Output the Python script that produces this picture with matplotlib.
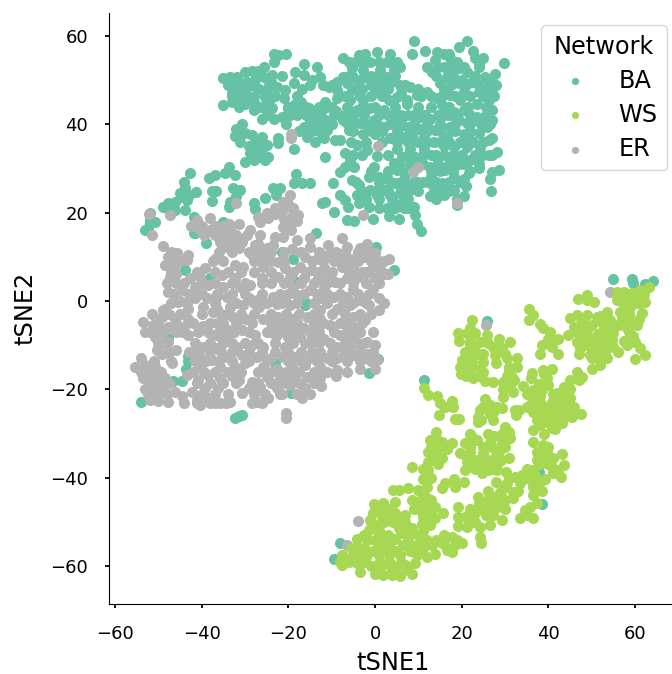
import matplotlib
matplotlib.use("Agg")
import matplotlib.pyplot as plt

# (tSNE1, tSNE2), one list per network
ba_points = [
    (-35.2,50.4),(-33.4,50.6),(-31.9,50.8),(-30,51.9),(-28.4,52.1),(-25.7,53),(-23.4,56),(-22.3,55.7),(-20.5,56),(-23.4,54.2),
    (-32.7,48.9),(-31.1,49.3),(-29.6,49.6),(-27.7,50),(-25.7,50.8),(-23.8,51.1),(-21.5,50.9),
    (-31.9,47.4),(-30,47.4),(-26.9,48.1),(-25,47.8),(-22.7,48.5),(-20.7,47.8),
    (-35,44.4),(-33,45.1),(-31.5,44),(-29.6,45.5),(-28,43.2),(-26.1,41.1),(-25.3,46.2),(-21.1,45.9),
    (-23.8,43.6),(-23.4,41.3),(-21.5,41.7),(-18.8,44.4),(-19.6,42.1),(-17.3,43.6),(-15.3,43.6),(-18.4,51.9),(-18.8,49.3),
    (-16.3,53.6),(-13.4,53),(-16.5,51.1),(-14.6,50),(-12.7,50.8),(-16.9,48.1),(-15,48.9),
    (-30.7,40),(-32,39),(-32.3,37.3),(-31.1,36),(-28.4,37.6),(-26.1,37.2),(-27.7,35.7),(-25,35.3),(-27.3,34.5),(-28.8,33.4),
    (-30,31.5),(-28,31.9),(-24.6,32.7),(-25.3,31.9),(-22.3,36.8),(-22.3,35.7),(-18.8,34.4),
    (-16.3,39.5),(-14.2,41.7),(-12.3,43.2),(-11.5,41),(-13.8,39.5),(-11.1,38.7),(-15.7,37.2),(-13.8,36),(-11.9,36.8),(-9.2,36.4),(-8,36.4),(-11.5,32.7),
    (-7.4,54.9),(-3.8,55.7),(-2.3,56),(0.4,56.4),(-4.6,54.2),(-1.1,54.2),(3.5,56),(2.7,54.2),(5.8,53),(-5.3,52.7),(-2.7,52.3),(1.2,52.3),(4.3,52.3),
    (-7.3,50.8),(-5,50.8),(-2.7,50.4),(2.7,50.8),(-8.8,49.6),(-6.5,49.3),(-10.7,48.5),(3.5,49.3),(0.8,48.5),(5.8,48.9),(-8.8,47.8),(-5.3,47.8),(0.4,47.4),(8.1,48.5),
    (-11.5,45.1),(-8.8,45.9),(-5.7,45.5),(-2.7,45.5),(3.1,45.5),(5,46.2),(7.3,45.5),(9.6,46.6),(12,47.4),(14.3,45.9),
    (8.9,58.9),(8.6,56),(11.6,56.7),(14.3,56.4),(15.8,56),(19.3,57.4),(21.2,58.9),(22.7,56.7),(25,54.9),(23.9,53.8),(29.8,53.8),(13.9,54.5),(17.3,54.9),
    (13.1,51.9),(15.8,53),(19.3,52.7),(21.2,51.9),(16.6,50.8),(27.7,51.5),(25.4,50.8),(15,49.3),(19.3,49.3),(22.3,49.6),(26.6,49.3),
    (17.3,46.6),(20.4,47.4),(23.9,47.4),(26.2,45.5),(23.5,44.7),(19.7,45.5),(27,43.2),
    (-4.2,43.2),(-1.1,43.6),(2,43.2),(4.3,41.7),(7.3,44.7),(10.4,41.7),(7.7,42.2),(12.7,41.3),(16.2,42.1),(15.4,44.4),(18.1,42.8),(21.2,40.2),(20.4,43.2),(23.5,41.7),(27,41),(25.8,39.4),(19.3,41),
    (-6.5,40.2),(-3.4,40.2),(-0.3,41),(2,39.4),(-2.7,37.9),(0,37.9),(-6.1,38.7),(5.4,39.4),(7.7,39.4),(10.4,39),(13.9,38.7),(17.3,39.4),(20.4,37.9),(16.6,37.2),(22,36.4),
    (3.5,36.8),(6.6,37.2),(8.9,36.4),(11.2,37.2),(13.5,36),
    (-4.2,35.3),(-1.9,34.2),(-6.9,33.4),(-5.7,31.9),(-4.8,30.4),(-6.9,30.4),(-8.2,29.3),(0.4,32.8),(5,34.5),(8.1,34.5),(11.2,34.5),(15.8,35),(18.1,34.9),(21.2,34.9),(24.3,34.9),(26.2,36.4),(28.1,33.8),(26.2,33),
    (4.3,31.2),(6.2,32.7),(9.3,32.7),(12.7,30.4),(14.3,32.3),(16.2,29.6),(19.3,31.1),(22,31.9),(23.9,30),(-0.3,30.4),(0.8,28.1),(-1.5,28.1),(2.7,28.1),(5,29.6),(7,28.5),
    (27,29.3),(28.5,29.6),(26.6,27.7),(21.6,28.9),(20.4,27.7),(18.1,28.1),(12.7,26.6),(15.4,26.6),(18.1,25.1),(20.4,23.8),(12.7,23.8),(15,24.7),(26.7,25),(9.6,27),(7,26.6),
    (-5.3,27.5),(-3.8,26.2),(2,25.1),(4.7,26.6),(-1.1,25.1),(-4.2,24),(-2.7,23.6),(0.4,24),(3.5,24),(5.8,24.4),(8.1,25.1),(-3.8,22.1),(-1.5,21.3),(2.7,21),(6.2,22.1),(8.9,21.3),(6.6,21),
    (3.1,19.2),(5.6,18.5),(9.3,19.4),(9.7,17.4),(10.6,15.9),(-0.5,18.5),(-4.8,18.1),(-6.5,18.3),(-9.4,20.2),(-6.3,21.3),(-6.9,22.8),(-8,24.1),(-11.5,22.5),(-12.3,22.2),(-9.7,26.8),(18.9,21.7),
    (-42.7,29),(-44.2,27),(-43.8,25.5),(-45.1,24.4),(-41.3,24.6),(-43,24),(-43.3,22.8),(-47.7,22.1),(-49,21.2),(-46.1,22.5),(-43.8,20.6),(-41.9,19.1),(-46.1,20.6),
    (-51.9,20),(-51.9,17.9),(-50.7,17.9),(-53,16),(-38.4,27.8),(-36.9,28.5),(-34.6,28.9),(-33.6,30.3),(-32.3,28.5),(-37.7,24.9),(-36.7,24.9),(-37.7,22.6),(-32.7,25.5),(-31.1,25.1),(-32,23.8),(-33.6,21.3),(-33.4,22.5),
    (-28,22.2),(-27.7,20.9),(-25.5,23.4),(-23.6,25.6),(-21.9,25.6),(-22.9,24),(-18.2,28.7),(-18.8,26.6),(-16.9,26.6),(-15.1,26.6),(-35,17.9),(-41.9,15.4),(-13.6,15.5),
    (-39.1,13.2),(-41.5,15.3),(-43.9,7.1),(-38.1,5.3),(-36.8,0.9),(-21.4,11.1),(-18.9,9.5),(0.1,12.3),(4.4,7.1),(-2.2,6.5),(-16.2,-0.2),(-16.2,-0.9),(-18.1,4.2),
    (-47.9,-8.3),(-43.2,-12.4),(-43.2,-13.5),(-43.7,-15.3),(-46.7,-18.2),(-44.6,-18.2),(-54,-22.8),(-23.1,-14.1),(-19.5,-20.8),(-1.4,-16.4),(0.6,-13.2),(-6.5,-5.6),
    (-31.5,-26.1),(-30.8,-25.8),(-32.3,-26.4),(25.8,-4.5),(54.8,4.9),(59.2,4.9),(59.6,4),(62.3,3.8),(64.1,4.5),(11.3,-17.8),(-8.1,-54.7),(-9.5,-58.5),(38.5,-46),(37.8,-38.7),
    # second pass, filling the dense parts of the cluster
    (-34,49),(-28.5,49),(-24.5,49),(-12,49),(-10,49),(-4,49),(-1,49),(1.5,49),(7,49),(17.5,49),(21,49),(24,49),(28,49),
    (-33,46.5),(-28,46.5),(-23,46.5),(-18,46.5),(-7,46.5),(-3.5,46.5),(-1,46.5),(1.5,46.5),(10.5,46.5),(13,46.5),(15.5,46.5),(18.5,46.5),(22,46.5),(25,46.5),(27.5,46.5),
    (-27,44),(-24.5,44),(-20,44),(-16,44),(-13,44),(-10,44),(-6.5,44),(-3,44),(0,44),(4.5,44),(10,44),(13,44),(17,44),(21.5,44),(25.5,44),
    (-25,42),(-18,42),(-16,42),(-13,42),(-9.5,42),(-7,42),(-5,42),(-2.5,42),(1,42),(3,42),(6,42),(9,42),(11.5,42),(14.5,42),(17,42),(19,42),(22,42),(25.5,42),
    (-20.5,40),(-15,40),(-12.5,40),(-10,40),(-5,40),(-2,40),(0.5,40),(3.5,40),(9,40),(12,40),(15,40),(18.5,40),(22,40),(24.5,40),(26.5,40),
    (-17.5,38.5),(-14.5,38.5),(-12,38.5),(-5,38.5),(-1,38.5),(1.5,38.5),(5,38.5),(9,38.5),(12,38.5),(15,38.5),(18.5,38.5),(22,38.5),
    (-5.5,36),(-2,36),(1.5,36),(5,36),(7.5,36),(10,36),(15,36),(17,36),(19.5,36),(22.5,36),(25,36),
    (-5,33),(-3,33),(3,33),(7.5,33),(11,33),(13,33),(16,33),(18,33),(20,33),(23,33),(25,33),(27,33),
    (5.5,31),(8,31),(11,31),(14.5,31),(17.5,31),(20.5,31),(24,31),
    (-1,29.5),(3,29.5),(6.5,29.5),(13,29.5),(15,29.5),(18,29.5),(22,29.5),
    (-4.5,27),(1,27),(3.5,27),(6,27),(9,27),(11,27),(14,27),(17,27),(19.5,27),
    (-3,25),(0,25),(3,25),(6,25),(10,25),(13.5,25),(17,25),
    (-2,23),(1,23),(4,23),(7.5,23),(14,23),(19,23),(1,21),(4.5,21),(7.5,21),
    (3,54),(5,54),(-6,54),(-3,54),(1,54),(12,53),(14.5,53),(17.5,53),(20.5,53),(24,53),
    (-6,51),(-1,51),(1,51),(4.5,51),(14,51),(18,51),(23,51),
    (-47,21.5),(-48,21),(-44.5,23.5),(-52,18.5),(-52.5,16.5),(-31,48),(-30,44.5),
    # third pass
    (-33,47),(-28,45),(-26,44),(-24,46),(-20,43.5),(-24,49.5),(-27,52),(-29,49),(-31,46),(-17,45),(-14,42),(-11,44),(-9,43),(-7.5,41),
    (-30,38),(-27,36),(-26,34),(-29,35),(-26.5,32.5),(-15,41),(-12.5,38),(-10,40),
    (-3,48),(0,50),(3,48),(6,47),(10,48),(16,48),(20,50),(25,48),(27,47),(17,56),(19,54),(23,55),
    (8,38),(6,41),(12,36),(14,33),(24,38),(27,37),(20,36),(17,31),(21,26),(13,28),(16,24),
]

er_points = [
    (-19.3,37.9),(-19.3,36.8),(0.6,35.2),(10,30.4),(8.7,29.1),(18.9,22.2),(-2.7,19.4),(-52.1,19.8),(-47.3,19.4),(-32.1,22.2),
    (25.5,-5.5),(54.2,2.1),(-4,-49.8),(-6.5,-55.3),
    (-19.6,24),(-21.2,22.5),(-18.9,19.4),(-23.1,19.8),(-21.2,20.6),(-17.7,19.4),(-41.2,18.3),(-38.1,18.7),(-33.8,17.5),(-31.5,17.5),(-26.5,17.9),(-24.6,18.7),(-19.6,17.9),
    (-21.2,16.8),(-40.4,16),(-38.1,16),(-35.8,15.7),(-33.5,16),(-28.9,16),(-26.5,14.9),(-51.5,14.9),(-21.2,14.5),(-18.1,13.8),(-15,14.2),(-7.7,14.2),(-35.8,13.4),(-32.7,13.8),(-30.8,13.4),(-49,12.4),
    (-34.2,12.3),(-31.5,11.9),(-27.7,12.6),(-25,11.9),(-23.5,12.6),(-19.2,11.7),(-15,12.3),(-10.8,12.6),(-6.5,12.3),(-1.9,13),(-3.5,11.9),(0,10.8),
    (-47.7,10),(-45.8,10.8),(-43.1,10.4),(-36.9,9.6),(-28.5,10.4),(-26.2,10.4),(-22.3,8.9),(-16.2,10),(-13.5,9.6),(-10.8,10.4),(-8.5,9.6),(-5.8,9.6),(-2.3,10),(3.1,9.6),
    (-48.5,8.1),(-46.2,8.1),(-43.5,9.3),(-39.2,7.4),(-32.3,8.1),(-30.4,7.7),(-25.8,7.7),(-20.8,7.4),(-17.3,7.7),(-14.6,7),(-11.9,7.4),(-7.7,7.7),(-5,7.4),(-0.4,8.1),(1.2,7),
    (-47.3,5.5),(-42.7,5.1),(-40.4,5.5),(-35.4,5.9),(-32.3,5.1),(-26.2,5.1),(-22.3,5.5),(-19.6,5.5),(-16.5,5.1),(-13.1,5.1),(-10.8,5.1),(-6.5,5.1),(-3.9,5.5),(0,5.1),(2.3,6.2),
    (-47.7,2.1),(-44.6,2.5),(-41.5,3.2),(-38.5,3.6),(-35,3.2),(-31.2,3.2),(-28.9,3.6),(-18.9,3.2),(-15,2.5),(-11.9,3.2),(-9.2,4.3),(-5,2.8),(-0.4,2.8),
    (-45.4,-0.2),(-41.5,0.6),(-38.9,0.6),(-34.2,0.9),(-29.2,0.6),(-27.3,0.2),(-23.5,0.9),(-20.8,0.9),(-18.1,1.3),(-12.7,0.6),(-9.6,0.9),(-6.5,0.9),(-3.5,0.2),(0.8,0.6),
    (-48.5,-1.7),(-43.1,-1.7),(-39.6,-1.3),(-36.5,-1.7),(-33.5,-1.3),(-30.4,-0.9),(-26.9,-1.3),(-22.7,-0.6),(-19.6,-0.9),(-12.7,-2.1),(-8.9,-1.7),(-5.8,-0.9),(-1.5,-0.9),(1,-2.1),
    (-51.5,-3),(-49.2,-3.6),(-46.2,-4),(-43.1,-4),(-37.3,-2.4),(-32.7,-3.6),(-30,-4),(-25.8,-4),(-22.3,-3.6),(-18.9,-4),(-15.8,-3.6),(-12.7,-4),(-5,-3.6),(-2.3,-4.3),
    (-53.5,-4.7),(-51.2,-5.5),(-47.7,-5.8),(-44.2,-5.8),(-39.6,-5.7),(-36.5,-5),(-33.9,-6.6),(-30.8,-6.6),(-22.7,-5.8),(-19.6,-5.8),(-16.5,-6.2),(-10.4,-5.5),(-8.1,-5),(-5,-5.8),(-0.6,-7),
    (-53.1,-7),(-50.8,-8.1),(-43.1,-7.7),(-40.8,-7),(-37.7,-7.7),(-34.2,-8.5),(-27.7,-7.7),(-25,-7),(-22.9,-7.9),(-20,-8.1),(-17.3,-8.1),(-14.6,-8.1),(-11.9,-8.5),(-8.1,-7.7),(-5.4,-8.1),
    (-50.4,-11.1),(-47.7,-9.2),(-39.6,-10.4),(-36.5,-10.7),(-31.9,-10.4),(-28.5,-10),(-25.8,-10.4),(-20.8,-10.4),(-16.2,-9.6),(-12.7,-11.5),(-8.9,-10.4),(-5.8,-10.4),(-1.9,-9.2),
    (-49.2,-11.9),(-54.1,-13),(-40.4,-12.6),(-37.7,-13.4),(-34.2,-12.6),(-30.8,-12.3),(-27.3,-12.6),(-21.2,-12.6),(-18.5,-12.6),(-15,-13),(-8.9,-13),(-5,-12.3),(-1.9,-11.9),(0.5,-13.4),
    (-55.4,-14.9),(-53.1,-14.5),(-50.8,-14.9),(-46.9,-14.1),(-40.4,-14.9),(-35.8,-14.9),(-32.3,-14.9),(-25.8,-14.9),(-22.7,-15.3),(-19.2,-14.9),(-16.2,-14.5),(-12.7,-14.9),(-8.9,-15.6),(-6.5,-16),(-3.5,-15.3),(0,-15.3),
    (-53.5,-17.5),(-50.4,-17.2),(-48.5,-17.5),(-43.5,-16.8),(-40.8,-17.9),(-38.5,-16.8),(-35.8,-17.5),(-31.5,-17.9),(-28.5,-18.3),(-25,-17.2),(-21.9,-17.5),(-18.9,-17.5),(-15.8,-17.2),(-12.7,-17.5),
    (-51.2,-19.8),(-49.2,-19.4),(-46.2,-20.6),(-42.3,-20.6),(-39.2,-19.8),(-36.2,-19.8),(-30.8,-20.9),(-29.2,-19.8),(-26.5,-19.4),(-22.7,-19.8),(-19.6,-19),(-16.2,-19.8),(-12.5,-19.2),
    (-51.9,-22.4),(-50,-22.6),(-47.7,-22.8),(-44.5,-21.5),(-41.2,-22.4),(-38.5,-22),(-35.8,-23.2),(-33.5,-22.8),(-27.3,-22.8),(-24.6,-22),(-16.9,-21.9),(-40.4,-23.6),
    (-20.6,-25.3),(-20.6,-26.6),
    # second pass, filling the dense parts of the cluster
    (-39.5,15),(-37,15),(-34.5,15),(-32,15),(-29.5,15),
    (-47,11),(-36,11),(-33,11),(-29,11),(-27,11),(-24,11),(-21,11),(-17,11),(-13,11),(-9,11),(-7,11),(-4,11),(-1.5,11),
    (-45,9),(-37.5,9),(-35,9),(-28,9),(-26,9),(-24,9),(-21,9),(-14.5,9),(-12,9),(-9.5,9),(-7,9),(-4,9),(-1,9),(1,9),
    (-47,6.5),(-41,6.5),(-37,6.5),(-34,6.5),(-31,6.5),(-28,6.5),(-24,6.5),(-19,6.5),(-16,6.5),(-13,6.5),(-10,6.5),(-6,6.5),(-3,6.5),(-1.5,6.5),(1.5,6.5),
    (-46,4),(-44,4),(-40,4),(-37,4),(-33,4),(-30,4),(-26,4),(-24,4),(-21,4),(-17,4),(-14,4),(-11,4),(-8,4),(-5,4),(-2,4),(1,4),
    (-46.5,1.5),(-43,1.5),(-40,1.5),(-36.5,1.5),(-33,1.5),(-30,1.5),(-26,1.5),(-22,1.5),(-20,1.5),(-16.5,1.5),(-13.5,1.5),(-11,1.5),(-8,1.5),(-4,1.5),(-1.5,1.5),
    (-47,-0.5),(-43.5,-0.5),(-37,-0.5),(-32,-0.5),(-28,-0.5),(-25,-0.5),(-21.5,-0.5),(-18,-0.5),(-14,-0.5),(-11,-0.5),(-7.5,-0.5),(-5,-0.5),(-2,-0.5),
    (-47.5,-3),(-45,-3),(-35.5,-3),(-34,-3),(-31,-3),(-28,-3),(-24,-3),(-20.5,-3),(-17.5,-3),(-14,-3),(-10,-3),(-7,-3),(-3.5,-3),
    (-50,-5),(-46,-5),(-42,-5),(-38,-5),(-35,-5),(-32,-5),(-28.5,-5),(-24,-5),(-21,-5),(-18,-5),(-14,-5),(-12,-5),(-6.5,-5),(-3,-5),
    (-49,-7),(-46,-7),(-44.5,-7),(-38.5,-7),(-36,-7),(-32.5,-7),(-29,-7),(-24,-7),(-21.5,-7),(-18.5,-7),(-15,-7),(-13,-7),(-9.5,-7),(-6.5,-7),(-3.5,-7),
    (-49,-9.5),(-41.5,-9.5),(-38,-9.5),(-35,-9.5),(-33,-9.5),(-30,-9.5),(-27,-9.5),(-23,-9.5),(-19,-9.5),(-15,-9.5),(-13,-9.5),(-10.5,-9.5),(-7,-9.5),(-4,-9.5),(-2.5,-9.5),
    (-47.5,-11.5),(-43,-11.5),(-41,-11.5),(-38,-11.5),(-35.5,-11.5),(-33,-11.5),(-29,-11.5),(-26,-11.5),(-23,-11.5),(-20,-11.5),(-17,-11.5),(-14.5,-11.5),(-10,-11.5),(-7,-11.5),(-3.5,-11.5),(-0.5,-11.5),
    (-51,-13.5),(-47,-13.5),(-41.5,-13.5),(-39,-13.5),(-36,-13.5),(-33,-13.5),(-29,-13.5),(-25,-13.5),(-20,-13.5),(-17,-13.5),(-13.5,-13.5),(-10,-13.5),(-6.5,-13.5),(-3.5,-13.5),(-1,-13.5),
    (-54,-16),(-52,-16),(-49.5,-16),(-42,-16),(-39.5,-16),(-37,-16),(-34,-16),(-31,-16),(-27,-16),(-24,-16),(-20.5,-16),(-17.5,-16),(-14,-16),(-11,-16),
    (-52,-18.5),(-50,-18.5),(-47.5,-18.5),(-41,-18.5),(-38,-18.5),(-35,-18.5),(-32,-18.5),(-27,-18.5),(-24,-18.5),(-20.5,-18.5),(-17.5,-18.5),(-14,-18.5),
    (-52.5,-21),(-50,-21),(-48,-21),(-40,-21),(-37,-21),(-34,-21),(-28,-21),(-25.5,-21),(-21.5,-21),(-18,-21),(-15,-21),
    (-41,-23),(-38,-23),(-37,-23),(-34.5,-23),(-26,-23),(-28.5,-23),
    # third pass
    (-40,17),(-37,17),(-35,17),(-42.5,17),(-36,14.5),(-34,14.5),(-33,12),(-20,22),(-23,21),(-19,21),(-25,20),(-27,19),(-21,18.5),(-18,18),(-19.5,16),(-23,14.5),(-27,13),
    (-47,9),(-46,6),(-48,4),(-45,0),(-49,-2),(-50,-6),(-52,-7),(-50,-9.5),(-46,-11),(2,9),(3,6),(1,4),(2,-0.5),(-1,-3),(0,-10),(-2,-13),
    (-40,-3),(-36,-8),(-33,-17),(-30,-14),(-24,-13),(-11,-13),(-9,-17),(-22,-21),(-44,-23),(-53,-20),
]

ws_points = [
    (63.1,3.2),(61.1,2.5),(59.2,1.7),(55.8,2.1),(55.8,0.2),(56.9,0.6),(62.3,-0.2),(60,-0.5),(61.5,-2.8),(58.8,-1.3),(56.5,-2.4),(53.5,-2.4),(46.9,0.4),(48.8,1.3),(50.4,-0.2),(48.8,0.2),
    (60.4,-5.5),(58.8,-4.7),(58.5,-7),(56.1,-5.5),(54.2,-4.3),(51.1,-3.6),(48.8,-3.2),(46.5,-3.2),(45,-3.9),(47.3,-5.5),(50,-5.5),(52.7,-6.2),(55,-7.3),(44.6,-7.7),(46.9,-7.3),(48.8,-7.7),(54.6,-8.8),
    (46.5,-9.2),(48.8,-10),(51.1,-10),(53.8,-10.4),(47.3,-10.7),(49.6,-12.2),(51.5,-13),(53.5,-13),(50,-15.3),(56.1,-11.5),(58.1,-10),(60,-9.2),(61.1,-10.7),(62.3,-12.2),(60,-13.2),
    (35.5,-1.9),(36.5,-3.2),(35.6,-4.3),(38.1,-5.1),(38.8,-6.2),(40.4,-7),(42.3,-8.5),(40,-8.5),(38.5,-10),(40.8,-10.5),(38.1,-11.9),(42.3,-11.9),
    (22.3,-4.3),(21.9,-6.2),(19.2,-7.2),(21.1,-7.3),(23.1,-7.3),(25.8,-7.7),(19.4,-9),(21.9,-9.2),(24.2,-9.2),(28.5,-8.5),(31.1,-9.2),(29.2,-10.7),(27.3,-10.4),(20.8,-11.5),(23.1,-11.5),(27.7,-12.2),(30.4,-13),(32.7,-13),
    (20,-13.4),(22.3,-13.8),(25,-13.8),(19.6,-14.9),(21.9,-15.3),(24.2,-15.3),(32.7,-14.9),(30.8,-15.3),(19.8,-16.5),(22.7,-17.5),(25.4,-18.1),(27.1,-18.4),(31.5,-17.2),(29.6,-18.3),(31.1,-19),
    (36.1,-16.4),(34.1,-19.2),(37.7,-18.7),(38.8,-15.6),(40.8,-15.3),(39.6,-17.5),(29.6,-21.7),(31.9,-20.5),
    (46.5,-16),(47.7,-17.2),(45,-17.9),(43.5,-19.4),(41.9,-20.9),(36.5,-20.2),(38.5,-20.2),(36.1,-22.8),(38.1,-22.8),(40.8,-22.8),(43.1,-22.8),(36.5,-25.1),(38.8,-25.1),(41.2,-24.7),(43.8,-25.1),(47.5,-25.5),(45.4,-26.2),
    (37.3,-27),(39.6,-27.3),(41.9,-27),(40.8,-28.8),(36.5,-29.2),(43.1,-27.7),
    (11.3,-19.6),(12.3,-21.3),(14.2,-21.5),(15,-23.2),(17.8,-22.7),(17.9,-23.9),(16.1,-24.1),(14.8,-25.7),(18.5,-26.7),(19.4,-26.7),
    (25.4,-22.1),(26.5,-23.6),(24.2,-24.7),(28.1,-23.9),(29.2,-24.3),(26.5,-25.5),(23.8,-26.2),(27.3,-27),(32.3,-24.7),(33.1,-24.7),(32.5,-25.8),(23.8,-27.3),(30,-28.5),
    (14.1,-29.6),(12.7,-31.5),(15.4,-31.9),(17.7,-32.1),(16.5,-33.4),(12.3,-34.1),(13.8,-34.9),(15.4,-35.6),(12.3,-36.4),(8.6,-37.5),(12.3,-38.3),(11.1,-40.2),(11.9,-42),
    (21.9,-30),(26.1,-30),(29.2,-30),(30.8,-29.6),(20.8,-32.2),(23.5,-31.5),(26.5,-32.2),(29.2,-32.2),(31.1,-31.1),(19.6,-34.5),(21.9,-34.1),(25,-34.5),(28.5,-34.1),(30.8,-35.6),(21.1,-36.4),(23.8,-36.4),(28.1,-36.8),(26.1,-38.3),(20.8,-38.3),(24.6,-39),(28.1,-38.3),(30.2,-38.7),
    (36.5,-31.9),(38.8,-32.6),(37.3,-34.1),(39.6,-34.5),(43.1,-34.7),(37.3,-36),(40,-36.8),(43.5,-37.2),(42.3,-38.3),(40.8,-37.5),(42.8,-39.9),(35,-38.1),(36.5,-38.3),(39.2,-40.2),(37.3,-40.5),(35.4,-40.2),(36.5,-42),(36.5,-43.9),
    (32.3,-39.8),(33.5,-41.3),(30.4,-41.3),(31.9,-43.2),(28.8,-43.2),(27.3,-44.3),(31.9,-44.7),(30,-45.1),(28.1,-46.6),(30,-47),(25,-47),(23.1,-48.1),(27.3,-48.5),(29.2,-49.6),(26.5,-50.7),(24.2,-51.1),
    (20.8,-48.8),(19.2,-48.8),(19.2,-46.6),(23.8,-44.3),(21.1,-51.1),(19.2,-51),(24.2,-53.4),(24.4,-54.7),
    (35.8,-46.6),(37.3,-45.8),(34.6,-47.3),(33.5,-49.2),(36.5,-49.2),(35,-48.5),
    (18.1,-40.2),(16.1,-41.3),(15.4,-42.4),(18.5,-42.1),(20.4,-40.9),(4.2,-42.8),(5.6,-42.8),(7.5,-42.4),(10,-42.8),(8.5,-45.1),(10.8,-44.7),(11.9,-46.6),(10.4,-47.3),(13.8,-46.6),(15.6,-47.9),(11.9,-48.8),(13.8,-49.2),(10.8,-50.5),(12.7,-50.7),
    (-0.2,-46),(1.9,-45.8),(4.6,-45.6),(1.1,-47.7),(4.6,-48.1),(6.9,-48.5),(-1.2,-49.5),(1.5,-49.6),(4.2,-50),(6.1,-49.6),(-1.5,-51.9),(0.8,-51.9),(5.4,-51.5),(8.5,-51.5),
    (-4.2,-53.8),(-1.9,-54.1),(4.6,-53.8),(7.7,-53.4),(10.4,-53.8),(15.8,-53),(17.7,-53.4),(-4.2,-55.6),(0.8,-55.6),(3.5,-55.6),(6.5,-55.3),(9.2,-55.6),(13.1,-55.3),(15.4,-54.9),(20,-54.7),(18.5,-55.3),(16.5,-56.4),(17.7,-56.8),
    (-7.7,-57.5),(-5,-57.5),(-2.7,-57.5),(0.8,-57.5),(3.1,-57.5),(5.8,-57.5),(9.6,-57.5),(11.9,-57.9),(13.8,-57.2),(-8.1,-59),(-7.7,-59.8),(-4.2,-59.4),(-2.7,-59),(-3.5,-61.3),(0.8,-59.4),(3.5,-59.4),(6.9,-59.8),(9.2,-59.4),
    (0,-61.7),(1.9,-62.1),(3.8,-62.1),(5.8,-62.3),(8.5,-61.7),(1.1,-60.9),(5,-60.5),
    # second pass, filling the dense parts of the cluster
    (40,-19),(38,-21.5),(41,-21),(44,-21),(39,-24),(42,-22),(45,-22),(37.5,-26),(40,-26),(43,-26),(38,-28),(41.5,-29),(44,-24),(46,-24),
    (48,-5),(52,-4.5),(49,-6.5),(51.5,-7.5),(53.5,-8),(47.5,-8.5),(50,-9),(52.5,-9.5),(50,-11),(52,-11.5),(54.5,-5.5),(57,-4),(58.5,-3),(57.5,-1),(61,-0.5),(60,0.5),(57.5,2),(62,1.5),(59.5,-8),(57.5,-9),
    (1,-53),(3,-53),(6,-52.5),(9,-52.5),(11,-52),(6.5,-51.5),(-2.5,-56),(-0.5,-56.5),(2,-56.5),(5,-56.5),(8,-56.5),(11,-56),(-6,-59),(-1,-60),(2,-59.5),(7.5,-61),(4,-61),(-3,-59),(-5.5,-56),(-2.5,-53),
    (29,-36),(26,-36),(23,-38),(22,-33),(25,-33),(28,-35),(22.5,-31),(27.5,-30.5),(21,-35),(23.5,-36),(30,-33),
    (14,-31),(13,-33),(14.5,-37),(13,-40),(11,-38),(10.5,-45.5),(12,-44.5),(13,-48),(11,-49),
    (30,-42),(29,-44),(26,-45),(28,-45),(25.5,-48.5),(27,-47),(33,-43),(21.5,-49),(23,-50),(38,-37),(41,-35.5),(38.5,-36),(37,-39.5),(34,-40),(38.5,-43),(34,-39.5),
    (24,-12),(26,-9.5),(23,-10),(30,-12),(30.5,-17),(32,-18),(29.5,-20),(22,-12),(21,-15),(25,-16),(36,-17.5),(37,-21.5),(39,-16.5),
    (25,-24),(27.5,-25),(24.5,-27),(2,-50),(3,-47),(-0.5,-48),(0,-51),(7,-50),(55,-10.5),(53,-12),(52,-3.5),
    # third pass
    (35,-24),(35,-21),(37.5,-23.5),(40,-25),(42,-24),(44.5,-26),(39,-30),(42,-28),(45,-20),(47,-18),
    (60,1),(58,0),(61,-4),(58,-6),(50,-13),(52,-14.5),(47,-12),(46,-6),
    (0,-54),(2,-54.5),(8,-55),(12,-54),(-2,-58),(1,-61),(6,-59),(10,-57),(14,-54),(16,-55),(19,-54),
    (-1,-50),(3,-49),(9,-47),(11,-43),(13,-45),(28,-41),(31,-40),(24,-46),(26,-43),(22,-47),
    (15,-33),(14,-34),(22,-36),(25,-38),(27,-33),(30,-31),(27,-38),(40,-33),(41,-39),(38,-41),
    (22,-10),(25,-12),(28,-14),(31,-15),(21,-17),(24,-17),
]

BA_COLOR = "#66c2a5"
WS_COLOR = "#a6d854"
ER_COLOR = "#b3b3b3"
TICKS = [-60, -40, -20, 0, 20, 40, 60]

fig = plt.figure(figsize=(6.72, 6.74), dpi=100)
ax = fig.add_axes([109 / 672, 1 - 604 / 674, 563 / 672, 591 / 674])

# ER sits above BA and WS above ER in the reference, legend order differs
for points, color, label, z in [
    (ba_points, BA_COLOR, "BA", 2),
    (ws_points, WS_COLOR, "WS", 4),
    (er_points, ER_COLOR, "ER", 3),
]:
    xs, ys = zip(*points)
    ax.scatter(xs, ys, s=64, color=color, linewidths=0, label=label, zorder=z)

ax.set_xlim(-61.4, 68.5)
ax.set_ylim(-68.6, 65.2)
ax.set_xticks(TICKS)
ax.set_yticks(TICKS)
ax.tick_params(labelsize=13, length=3, width=1.3, pad=12)
ax.set_xlabel("tSNE1", fontsize=17.3, labelpad=6, x=0.505)
ax.set_ylabel("tSNE2", fontsize=17.3, labelpad=9)
ax.spines["top"].set_visible(False)
ax.spines["right"].set_visible(False)

ax.legend(
    title="Network",
    fontsize=17.3,
    title_fontsize=17.3,
    markerscale=0.65,
    labelspacing=0.42,
    loc="upper right",
    bbox_to_anchor=(667 / 672, 1 - 25 / 674),
    bbox_transform=fig.transFigure,
    borderaxespad=0,
)

fig.savefig("out.png", dpi=100)
